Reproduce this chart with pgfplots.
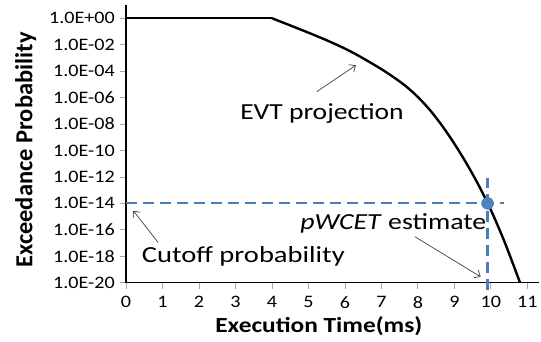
\documentclass[border=0pt]{standalone}
\usepackage{fontspec}
\setmainfont{Carlito}
\usepackage{pgfplots}
\pgfplotsset{compat=1.18}
\usetikzlibrary{arrows.meta}
\definecolor{dashblue}{RGB}{74,126,187}
\definecolor{dotblue}{RGB}{79,129,189}
\definecolor{annot}{RGB}{64,64,64}
\begin{document}
\begin{tikzpicture}
\begin{axis}[
  scale only axis,
  width=413pt, height=277.7pt,
  xmin=0, xmax=11.32,
  ymode=log, ymin=1e-20, ymax=10,
  axis x line=bottom, axis y line=left,
  axis line style={-, line width=1.5pt, black},
  xtick={0,1,2,3,4,5,6,7,8,9,10,11},
  xticklabels={0,1,2,3,4,5,6,7,8,9,10,11},
  ytick={1e-20,1e-18,1e-16,1e-14,1e-12,1e-10,1e-8,1e-6,1e-4,1e-2,1},
  yticklabels={1.0E-20,1.0E-18,1.0E-16,1.0E-14,1.0E-12,1.0E-10,1.0E-08,1.0E-06,1.0E-04,1.0E-02,1.0E+00},
  minor tick num=0,
  yminorticks=false,
  tick align=outside,
  major tick length=6pt,
  tick style={gray!70, line width=0.8pt},
  tick label style={font=\fontsize{17.5}{19}\selectfont, xscale=1.15, text=black},
  xticklabel style={yshift=-4pt},
  yticklabel style={xshift=-1pt},
  clip=false,
  xlabel={Execution Time(ms)},
  ylabel={Exceedance Probability},
  xlabel style={font=\bfseries\fontsize{21.5}{24}\selectfont, xscale=1.18, at={(axis description cs:0.467,-0.18)}, anchor=base},
  ylabel style={font=\bfseries\fontsize{24.5}{28}\selectfont, at={(axis description cs:-0.2269,0.478)}, anchor=base, rotate=0},
]
% flat part
\addplot[black, line width=2.4pt] coordinates {(0,1) (4,1)};
% EVT projection
\addplot[black, line width=2.4pt, smooth, tension=0.6] coordinates {
  (4.00,1) (4.496,0.290) (5.044,0.0721) (5.592,0.01667) (6.140,3.24e-3)
  (6.689,4.61e-4) (7.237,5.32e-5) (7.785,3.91e-6) (8.333,1.12e-7)
  (8.882,1.01e-9) (9.430,3.59e-12) (9.915,1e-14) (10.362,1.51e-17) (10.80,1e-20)
};
% cutoff probability line
\addplot[dashblue, line width=2.2pt, dash pattern=on 11pt off 6pt] coordinates {(0,1e-14) (10.35,1e-14)};
% pWCET vertical
\addplot[dashblue, line width=2.2pt, dash pattern=on 11pt off 6pt] coordinates {(9.91,2.8e-21) (9.91,7.9e-13)};
% pWCET point
\addplot[only marks, mark=*, mark size=6pt, dotblue] coordinates {(9.91,1e-14)};
% annotations
\draw[annot, line width=0.7pt, -{Straight Barb[length=5pt,width=9pt]}] (axis cs:5.23,2.8e-6) -- (axis cs:6.30,2.75e-4);
\node[anchor=base west, inner sep=0pt, font=\fontsize{23}{26}\selectfont, xscale=1.2] at (axis cs:3.125,2.29e-8) {EVT projection};
\draw[annot, line width=0.7pt, -{Straight Barb[length=5pt,width=9pt]}] (axis cs:0.885,1.07e-17) -- (axis cs:0.20,2.8e-15);
\node[anchor=base west, inner sep=0pt, font=\fontsize{23}{26}\selectfont, xscale=1.24] at (axis cs:0.43,3.2e-19) {Cutoff probability};
\draw[annot, line width=0.7pt, -{Straight Barb[length=5pt,width=9pt]}] (axis cs:7.92,3.0e-17) -- (axis cs:9.72,2.8e-20);
\node[anchor=base west, inner sep=0pt, font=\fontsize{23}{26}\selectfont, xscale=1.21] at (axis cs:4.77,1.1e-16) {\textit{pWCET} estimate};
\end{axis}
\pgfresetboundingbox
\useasboundingbox (current axis.south west) ++(-126pt,-58.3pt) rectangle ++(541pt,341pt);
\end{tikzpicture}
\end{document}
